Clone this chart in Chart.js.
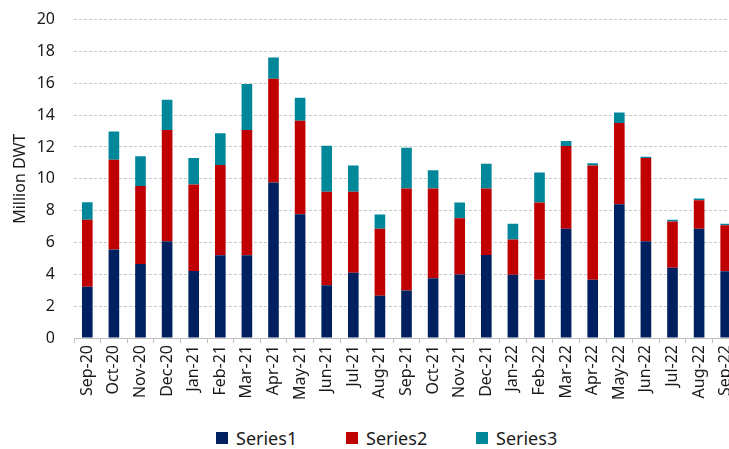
<!DOCTYPE html>
<html>
<head>
<meta charset="utf-8">
<script src="https://cdn.jsdelivr.net/npm/chart.js@4"></script>
<style>
  html, body { margin: 0; padding: 0; background: #fff; overflow: hidden; }
  #wrap { position: relative; width: 760px; height: 449px; }
  #chart-box { position: absolute; left: 0; top: -9px; width: 760px; height: 429px; }
  #legend {
      position: absolute; left: 216px; top: 427px; height: 22px;
      display: flex; align-items: center;
      font-family: 'Noto Sans', 'Open Sans', sans-serif; font-size: 18px; color: #1a1a1a;
  }
  .legend-item { display: flex; align-items: center; width: 130px; }
  .legend-box { width: 12px; height: 12px; margin-right: 8px; }
</style>
</head>
<body>
<div id="wrap">
  <div id="chart-box"><canvas id="dwt-canvas"></canvas></div>
  <div id="legend"></div>
</div>
<script>
/* ============================================================
   DATA
   ============================================================ */

const months = [
    "Sep-20", "Oct-20", "Nov-20", "Dec-20", "Jan-21", "Feb-21", "Mar-21",
    "Apr-21", "May-21", "Jun-21", "Jul-21", "Aug-21", "Sep-21", "Oct-21",
    "Nov-21", "Dec-21", "Jan-22", "Feb-22", "Mar-22", "Apr-22", "May-22",
    "Jun-22", "Jul-22", "Aug-22", "Sep-22"
];

const series1 = [
    3.22, 5.56, 4.65, 6.08, 4.21, 5.20, 5.20, 9.77, 7.77, 3.32, 4.10, 2.65, 2.98,
    3.76, 3.99, 5.21, 3.97, 3.66, 6.87, 3.66, 8.40, 6.07, 4.41, 6.87, 4.20
];

const series2 = [
    4.21, 5.64, 4.89, 6.99, 5.43, 5.66, 7.87, 6.52, 5.87, 5.86, 5.08, 4.22, 6.41,
    5.63, 3.53, 4.18, 2.21, 4.85, 5.19, 7.18, 5.10, 5.23, 2.90, 1.79, 2.88
];

const series3 = [
    1.10, 1.77, 1.87, 1.90, 1.66, 2.00, 2.89, 1.33, 1.45, 2.90, 1.66, 0.88, 2.56,
    1.14, 0.99, 1.56, 1.00, 1.89, 0.31, 0.13, 0.66, 0.09, 0.11, 0.10, 0.10
];

const seriesNames = ["Series1", "Series2", "Series3"];
const seriesColors = ["#002060", "#C00000", "#00879A"];

const Y_MIN = 0;
const Y_MAX = 20;
const Y_STEP = 2;
const Y_TITLE = "Million DWT";

/* ============================================================
   CHART
   ============================================================ */

const FONT_FAMILY = "'Noto Sans', 'Open Sans', sans-serif";
const TEXT_COLOR = "#1a1a1a";

const ctx = document.getElementById("dwt-canvas").getContext("2d");

const datasets = [series1, series2, series3].map((values, i) => ({
    label: seriesNames[i],
    data: values,
    backgroundColor: seriesColors[i],
    borderWidth: 0,
    categoryPercentage: 0.8,
    barPercentage: 0.5
}));

const chart = new Chart(ctx, {
    type: "bar",
    data: { labels: months, datasets },
    options: {
        responsive: true,
        maintainAspectRatio: false,
        animation: false,
        layout: { padding: { top: 0, right: 21, left: 0, bottom: 0 } },
        scales: {
            x: {
                stacked: true,
                afterFit: scale => { scale.height = 82; },
                grid: {
                    offset: true,
                    drawOnChartArea: false,
                    drawTicks: true,
                    tickLength: 5,
                    color: "#bfbfbf"
                },
                border: { display: true, color: "#bfbfbf", width: 1 },
                ticks: {
                    autoSkip: false,
                    maxRotation: 90,
                    minRotation: 90,
                    padding: 2,
                    color: TEXT_COLOR,
                    font: { family: FONT_FAMILY, size: 16 }
                }
            },
            y: {
                stacked: true,
                min: Y_MIN,
                max: Y_MAX,
                afterFit: scale => { scale.width = 74; },
                grid: {
                    drawTicks: false,
                    color: "#c8c8c8",
                    lineWidth: 1
                },
                border: { display: false, dash: [3, 2] },
                ticks: {
                    stepSize: Y_STEP,
                    padding: 19,
                    color: TEXT_COLOR,
                    font: { family: FONT_FAMILY, size: 16 }
                },
                title: {
                    display: true,
                    text: Y_TITLE,
                    color: TEXT_COLOR,
                    padding: { top: 11, bottom: 0 },
                    font: { family: FONT_FAMILY, size: 16 }
                }
            }
        },
        plugins: {
            legend: { display: false },
            tooltip: { enabled: false }
        }
    }
});

/* HTML legend built from the chart's own datasets */
const legendEl = document.getElementById("legend");
chart.data.datasets.forEach(ds => {
    const item = document.createElement("div");
    item.className = "legend-item";
    const box = document.createElement("span");
    box.className = "legend-box";
    box.style.background = ds.backgroundColor;
    const text = document.createElement("span");
    text.textContent = ds.label;
    item.appendChild(box);
    item.appendChild(text);
    legendEl.appendChild(item);
});
</script>
</body>
</html>
